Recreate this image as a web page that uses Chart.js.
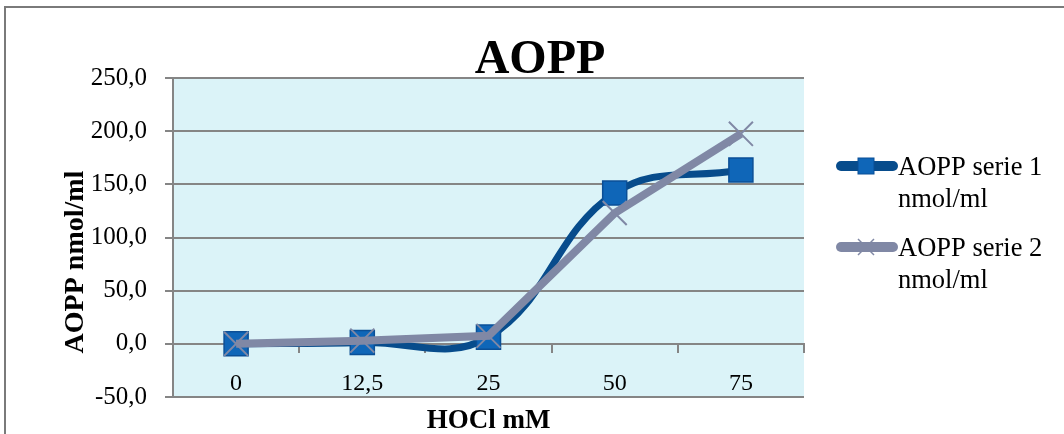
<!DOCTYPE html>
<html>
<head>
<meta charset="utf-8">
<script src="https://cdn.jsdelivr.net/npm/chart.js@4.4.1/dist/chart.umd.min.js"></script>
<style>
  html, body { margin: 0; padding: 0; background: #ffffff; }
  #wrap { width: 1064px; height: 434px; position: relative; }
</style>
</head>
<body>
<div id="wrap"><canvas id="c" width="1064" height="434"></canvas></div>
<script>
// ---- data ----
const categories = ['0', '12,5', '25', '50', '75'];
const serie1 = [0, 1.2, 6.3, 141.8, 163.5];
const serie2 = [0, 3, 7.5, 123, 197.5];
const yTicks = [-50, 0, 50, 100, 150, 200, 250];
const serie1Label = ['AOPP serie 1', 'nmol/ml'];
const serie2Label = ['AOPP serie 2', 'nmol/ml'];
const chartTitle = 'AOPP';
const xTitle = 'HOCl mM';
const yTitle = 'AOPP nmol/ml';

const SERIF = '"Liberation Serif", "Times New Roman", serif';
const GRID = '#858585';
const BLUE_LINE = '#074C8C';
const BLUE_FILL = '#0F66B8';
const BLUE_EDGE = '#0B4F96';
const GRAY_LINE = '#8088A5';

const decorPlugin = {
  id: 'decor',
  beforeDraw(chart) {
    const ctx = chart.ctx;
    const a = chart.chartArea;
    ctx.save();
    ctx.fillStyle = '#ffffff';
    ctx.fillRect(0, 0, chart.width, chart.height);
    // outer frame
    ctx.strokeStyle = '#7a7a7a';
    ctx.lineWidth = 2;
    ctx.strokeRect(5, 7, chart.width + 20, chart.height + 20);
    // plot background
    ctx.fillStyle = '#DBF3F8';
    ctx.fillRect(a.left, a.top, a.right - a.left, a.bottom - a.top);
    ctx.restore();
  },
  afterDraw(chart) {
    const ctx = chart.ctx;
    const a = chart.chartArea;
    ctx.save();
    ctx.fillStyle = '#000000';
    // main title
    ctx.font = 'bold 48px ' + SERIF;
    ctx.textAlign = 'center';
    ctx.textBaseline = 'alphabetic';
    ctx.fillText(chartTitle, 540, 73);
    // x title
    ctx.font = 'bold 27px ' + SERIF;
    ctx.fillText(xTitle, (a.left + a.right) / 2, 428);
    // y title
    ctx.save();
    ctx.translate(83, 262);
    ctx.rotate(-Math.PI / 2);
    ctx.font = 'bold 28px ' + SERIF;
    ctx.textAlign = 'center';
    ctx.fillText(yTitle, 0, 0);
    ctx.restore();

    // legend
    const entries = [
      { lines: serie1Label, y: 166, ds: chart.data.datasets[0] },
      { lines: serie2Label, y: 247, ds: chart.data.datasets[1] }
    ];
    entries.forEach((e, i) => {
      ctx.save();
      ctx.strokeStyle = e.ds.borderColor;
      ctx.lineWidth = 10;
      ctx.lineCap = 'round';
      ctx.beginPath();
      ctx.moveTo(841, e.y);
      ctx.lineTo(893, e.y);
      ctx.stroke();
      const cx = 866;
      if (i === 0) {
        ctx.fillStyle = BLUE_FILL;
        ctx.strokeStyle = BLUE_EDGE;
        ctx.lineWidth = 1;
        ctx.fillRect(cx - 8, e.y - 8, 16, 16);
        ctx.strokeRect(cx - 8, e.y - 8, 16, 16);
      } else {
        ctx.strokeStyle = GRAY_LINE;
        ctx.lineWidth = 1.5;
        ctx.lineCap = 'butt';
        ctx.beginPath();
        ctx.moveTo(cx - 8, e.y - 8); ctx.lineTo(cx + 8, e.y + 8);
        ctx.moveTo(cx - 8, e.y + 8); ctx.lineTo(cx + 8, e.y - 8);
        ctx.stroke();
      }
      ctx.restore();
      ctx.fillStyle = '#000000';
      ctx.font = '26.5px ' + SERIF;
      ctx.textAlign = 'left';
      ctx.textBaseline = 'alphabetic';
      ctx.fillText(e.lines[0], 898, e.y + 9);
      ctx.fillText(e.lines[1], 898, e.y + 41);
    });
    ctx.restore();
  }
};

new Chart(document.getElementById('c'), {
  type: 'line',
  data: {
    labels: categories,
    datasets: [
      {
        label: serie1Label.join(' '),
        data: serie1,
        borderColor: BLUE_LINE,
        borderWidth: 7,
        tension: 0.4,
        pointStyle: 'rect',
        pointRadius: 17,
        pointHoverRadius: 17,
        pointBackgroundColor: BLUE_FILL,
        pointBorderColor: BLUE_EDGE,
        pointBorderWidth: 1.5,
        order: 1
      },
      {
        label: serie2Label.join(' '),
        data: serie2,
        borderColor: GRAY_LINE,
        borderWidth: 8,
        tension: 0,
        pointStyle: 'crossRot',
        pointRadius: 17,
        pointHoverRadius: 17,
        pointBorderColor: GRAY_LINE,
        pointBackgroundColor: GRAY_LINE,
        pointBorderWidth: 2,
        order: 0
      }
    ]
  },
  options: {
    responsive: false,
    animation: false,
    devicePixelRatio: 1,
    layout: { padding: { left: 0, top: 78, right: 260, bottom: 37 } },
    plugins: {
      legend: { display: false },
      title: { display: false },
      tooltip: { enabled: false }
    },
    scales: {
      x: {
        type: 'category',
        position: { y: 0 },
        offset: true,
        grid: {
          offset: true,
          drawOnChartArea: false,
          drawTicks: true,
          tickLength: 8,
          color: GRID,
          lineWidth: 2
        },
        border: { display: true, color: GRID, width: 2 },
        ticks: {
          color: '#000000',
          font: { family: SERIF, size: 24 },
          padding: 17,
          maxRotation: 0,
          autoSkip: false
        }
      },
      y: {
        position: 'left',
        min: -50,
        max: 250,
        afterBuildTicks(scale) { scale.ticks = yTicks.map(v => ({ value: v })); },
        afterFit(scale) { scale.width = 173; },
        grid: {
          color: GRID,
          lineWidth: 2,
          drawTicks: true,
          tickLength: 8
        },
        border: { display: true, color: GRID, width: 2 },
        ticks: {
          color: '#000000',
          font: { family: SERIF, size: 25 },
          padding: 18,
          callback: (v) => v.toFixed(1).replace('.', ',')
        }
      }
    }
  },
  plugins: [decorPlugin]
});
</script>
</body>
</html>
